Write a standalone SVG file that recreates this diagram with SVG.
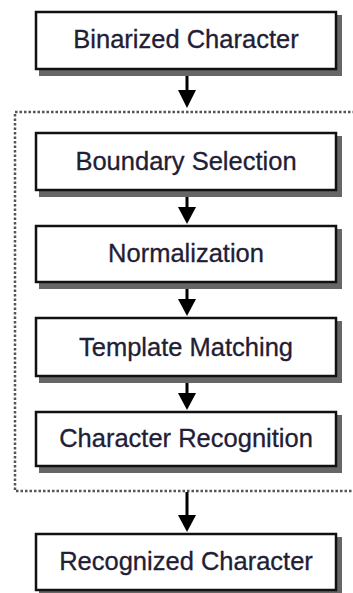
<svg xmlns="http://www.w3.org/2000/svg" width="353" height="593" viewBox="0 0 353 593">
<style>
.box{fill:#fff;stroke:#111;stroke-width:2.5}
.sh{fill:#666}
.t{font-family:"Liberation Sans",Arial,sans-serif;font-size:25.5px;fill:#1f2035;text-anchor:middle;stroke:#1f2035;stroke-width:0.3}
.ln{stroke:#000;stroke-width:3;fill:none}
.dot{fill:none;stroke:#555;stroke-width:2.5;stroke-dasharray:2.5 2}
</style>
<rect width="353" height="593" fill="#fff"/>
<rect class="dot" x="15" y="112" width="350" height="379"/>
<g id="connectors">
<line class="ln" x1="187" y1="70" x2="187" y2="91"/><path d="M178,90 L196,90 L187,108 Z"/>
<line class="ln" x1="187" y1="191" x2="187" y2="208"/><path d="M178,207 L196,207 L187,224 Z"/>
<line class="ln" x1="187" y1="284" x2="187" y2="300"/><path d="M178,299 L196,299 L187,316 Z"/>
<line class="ln" x1="187" y1="377" x2="187" y2="394"/><path d="M178,393 L196,393 L187,410 Z"/>
<line class="ln" x1="187" y1="492" x2="187" y2="516"/><path d="M178,515 L196,515 L187,532 Z"/>
</g>
<g id="n1"><rect class="sh" x="39" y="15" width="303" height="61"/><rect class="box" x="36" y="12" width="300" height="57"/><text class="t" x="186" y="48">Binarized Character</text></g>
<g id="n2"><rect class="sh" x="39" y="136" width="303" height="61"/><rect class="box" x="36" y="133" width="300" height="57"/><text class="t" x="186" y="170">Boundary Selection</text></g>
<g id="n3"><rect class="sh" x="39" y="229" width="303" height="60"/><rect class="box" x="36" y="226" width="300" height="56"/><text class="t" x="186" y="262">Normalization</text></g>
<g id="n4"><rect class="sh" x="39" y="321" width="303" height="62"/><rect class="box" x="36" y="318" width="300" height="58"/><text class="t" x="186" y="356">Template Matching</text></g>
<g id="n5"><rect class="sh" x="39" y="415" width="303" height="58"/><rect class="box" x="36" y="412" width="300" height="54"/><text class="t" x="186" y="447">Character Recognition</text></g>
<g id="n6"><rect class="sh" x="39" y="537" width="303" height="58"/><rect class="box" x="36" y="534" width="300" height="56"/><text class="t" x="186" y="570">Recognized Character</text></g>
</svg>
